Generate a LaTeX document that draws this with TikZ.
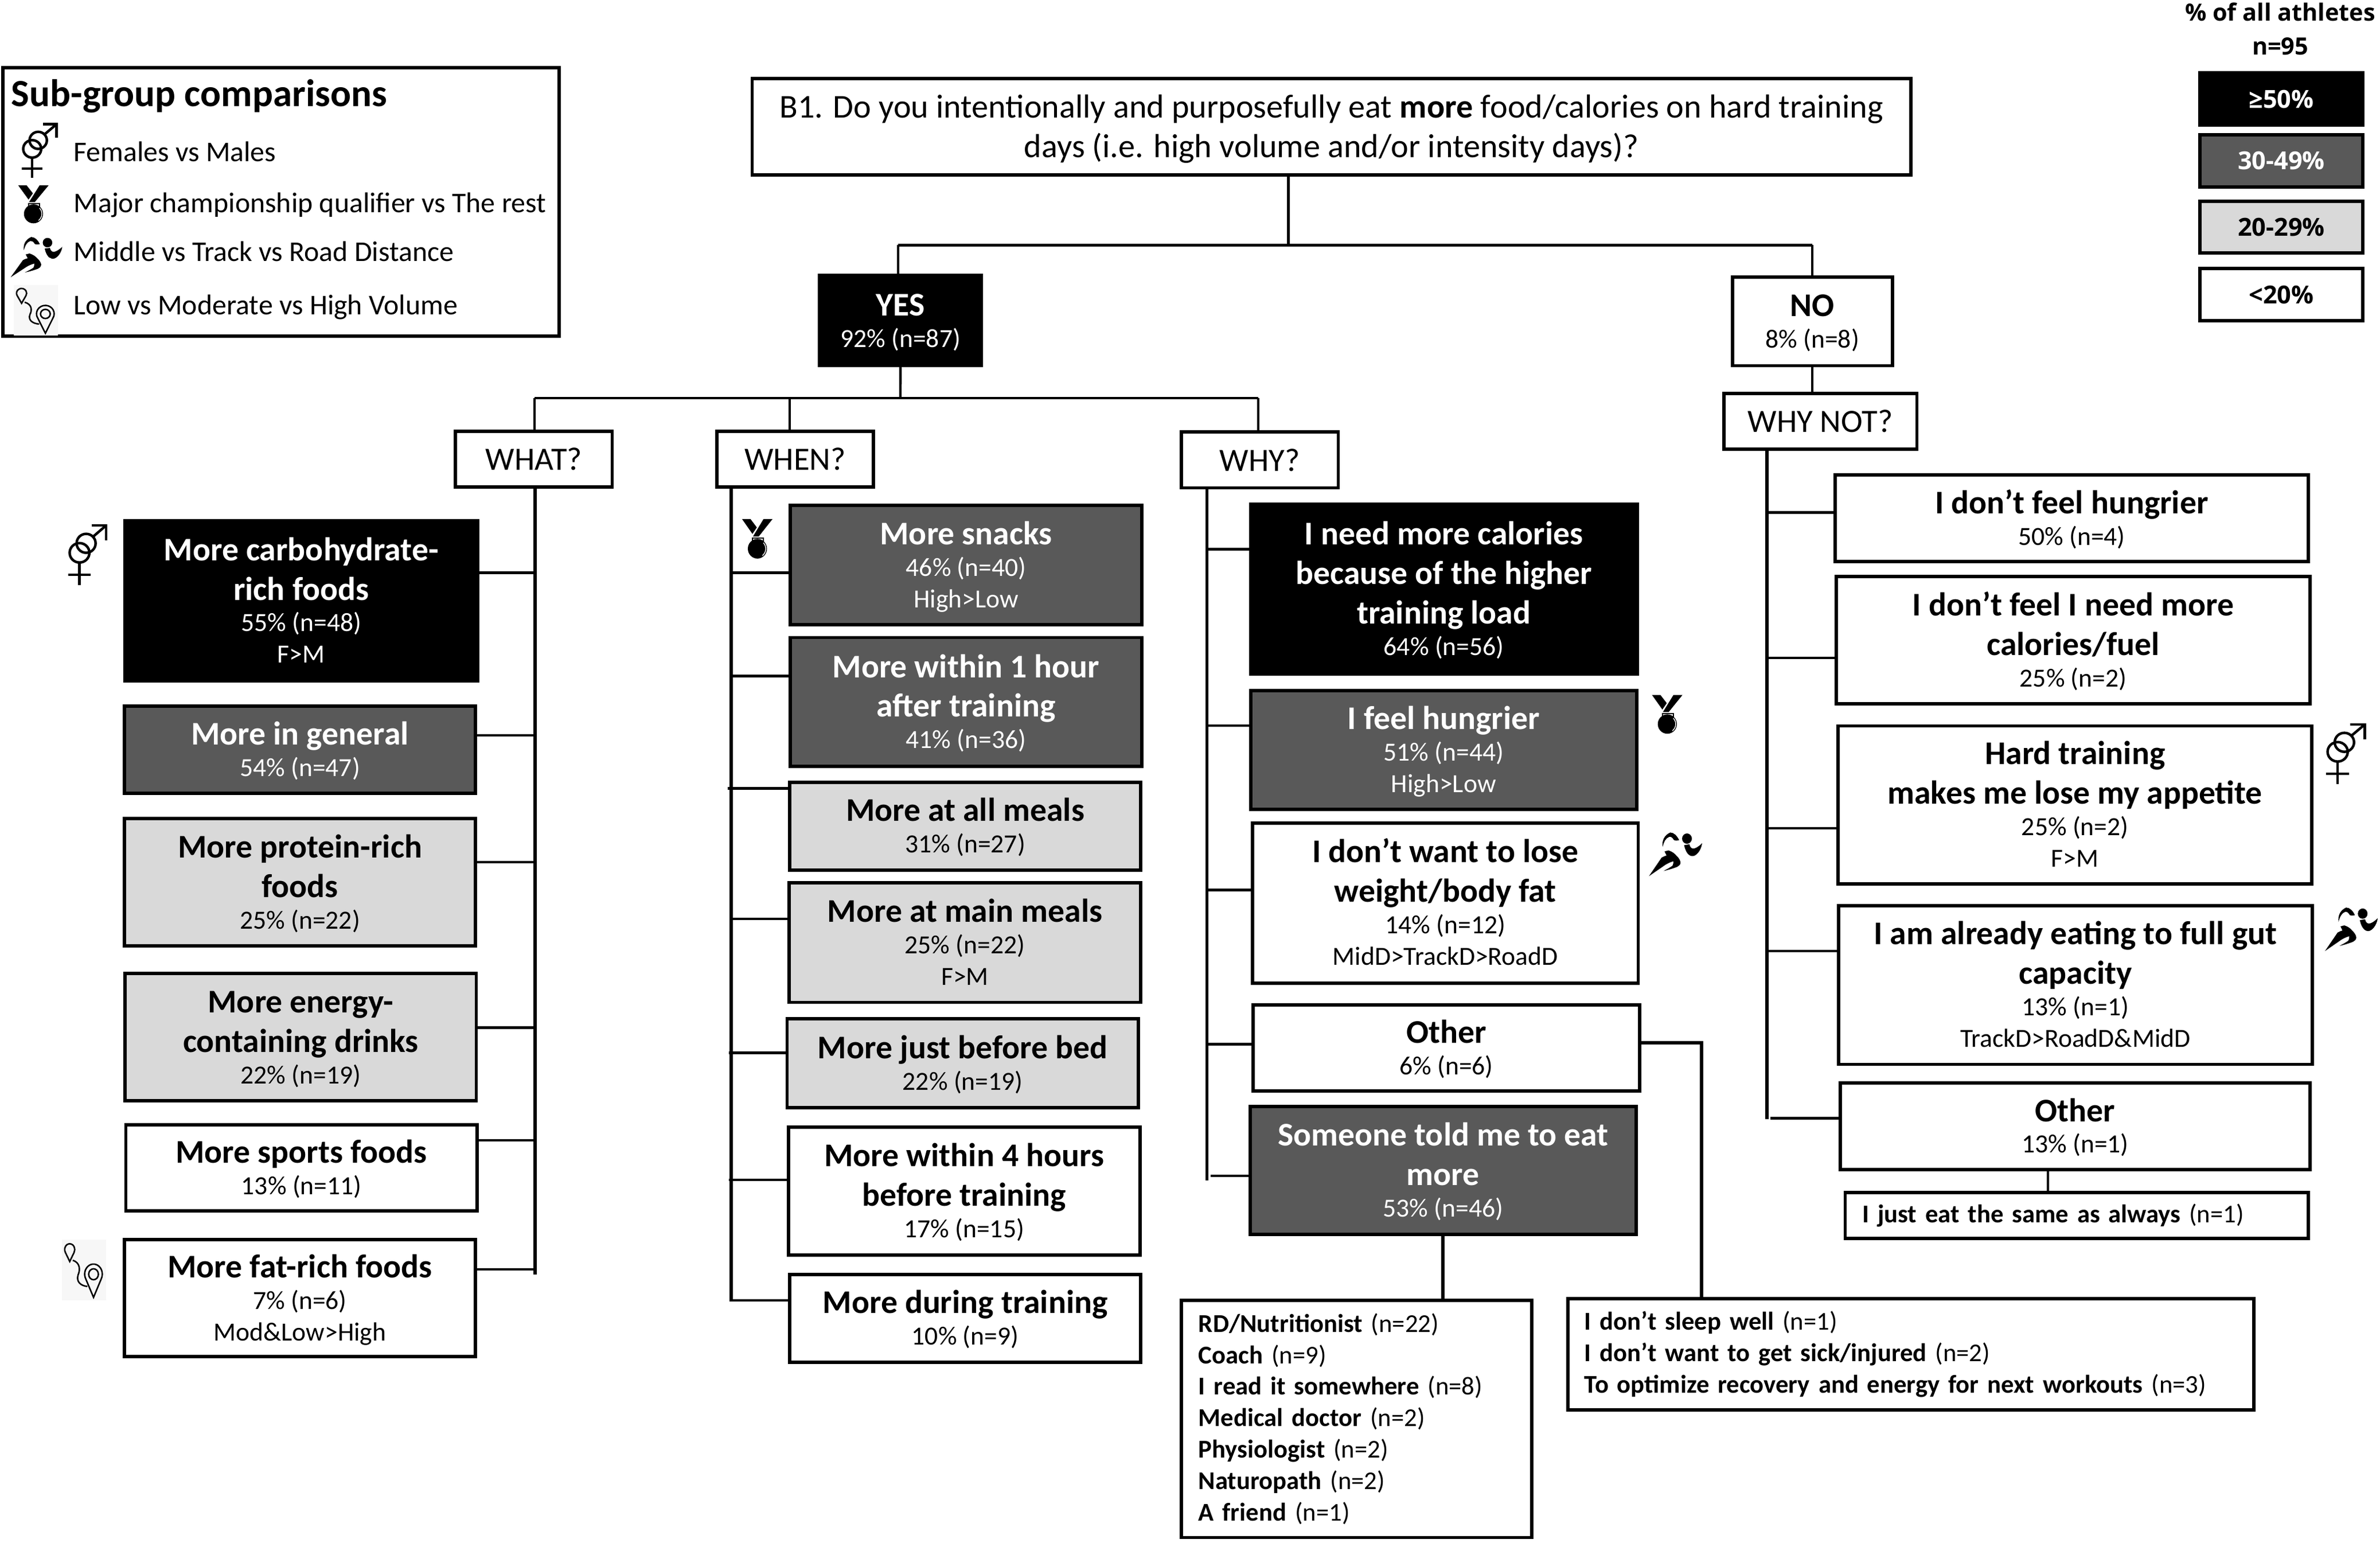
\documentclass[tikz,border=0pt]{standalone}
\usepackage{fontspec}
\setmainfont{Carlito}
\newfontfamily\keyfont{Open Sans}
\definecolor{darkfill}{HTML}{595959}
\definecolor{lightfill}{HTML}{D9D9D9}
\newcommand{\ttl}{\fontsize{12.4}{14.8}\selectfont\bfseries}
\newcommand{\sbt}{\fontsize{9.8}{11.8}\selectfont\mdseries}
\newcommand{\qtx}{\fontsize{12.5}{14.9}\selectfont}
\newcommand{\qwh}{\fontsize{12.2}{14.9}\selectfont}
\newcommand{\lsf}{\fontsize{9.6}{11.8}\selectfont}
\newcommand{\nl}{\\[3pt]}
\tikzset{
  edge box/.style={draw=black,line width=1.25pt,inner sep=0pt,align=center,outer sep=0pt,font=\sbt},
  whitebox/.style={edge box,fill=white,text=black},
  lightbox/.style={edge box,fill=lightfill,text=black},
  darkbox/.style={edge box,fill=darkfill,text=white},
  blackbox/.style={edge box,fill=black,text=white},
  link/.style={line width=0.95pt,draw=black},
  buslink/.style={line width=1.2pt,draw=black},
  legtext/.style={inner sep=0pt,anchor=base west,font=\fontsize{10.7}{12}\selectfont},
  keyhead/.style={inner sep=0pt,anchor=base,font=\keyfont\fontsize{8.9}{11}\selectfont\bfseries},
  keybox/.style={font=\keyfont\fontsize{9.3}{11}\selectfont\bfseries},
  gendericon/.pic={
    \begin{scope}[line width=.95pt]
      \draw (28.3,47.2) circle[x radius=25,y radius=16];
      \draw (45,31.6) circle[x radius=24,y radius=15.6];
      \draw (62,21) -- (96,2);
      \draw (59,2) -- (96,2) -- (96,27);
      \draw (28,63) -- (28,100);
      \draw (0,83.3) -- (57,83.3);
    \end{scope}
  },
  medalicon/.pic={
    \fill (70.4,0) -- (100,0) -- (54.7,44) -- (35.8,44) -- cycle;
    \fill (0,0) -- (27.7,0) -- (48.4,21) -- (34,37.5) -- cycle;
    \draw[line width=.45pt] (34,47.5) rectangle (70,57.5);
    \fill (50.3,75) circle[x radius=31.4,y radius=25];
    \draw[white,line width=.3pt] (70,60) .. controls (80,68) and (82,82) .. (67,92.5);
  },
  runnericon/.pic={
    \fill (25.6,33) .. controls (24,18) and (29,6) .. (40,0) .. controls (47,0) and (53,8) .. (56.6,17.5) .. controls (52,19) and (49,19) .. (47,17.5) .. controls (44,11) and (41,9) .. (38,10) .. controls (31,13) and (28,22) .. (25.6,33) -- cycle;
    \fill (71.4,14) circle[x radius=9.2,y radius=11.8];
    \fill (66,29) -- (76,27) .. controls (78,38) and (84,43) .. (100,24.5) .. controls (98,42) and (88,56) .. (80,54) .. controls (72,52) and (68,40) .. (66,29) -- cycle;
    \fill (29.3,43.4) -- (36.6,41) .. controls (44,44) and (48,48) .. (51.3,52.8) .. controls (56,58) and (59,64) .. (59.3,69.3) .. controls (59,74) and (56,77) .. (53,78.8) .. controls (44,83) and (36,86) .. (27.5,88.2) .. controls (34,84) and (40,80) .. (44,76.4) .. controls (46,72) and (46,68) .. (45.8,66) .. controls (40,68) and (35,71) .. (31,74) -- (0,100) -- (23.8,57.5) .. controls (27,55) and (30,54) .. (33,52.8) -- cycle;
  },
  routeicon/.pic={
    \fill[black!3] (0,0) rectangle (100,100);
    \begin{scope}[line width=.55pt]
      \draw (18,36) -- (8,21) arc[start angle=150,end angle=390,x radius=11.5,y radius=9.5] -- cycle;
      \draw (72,95) -- (54.6,65) arc[start angle=150,end angle=390,x radius=20,y radius=16.5] -- cycle;
      \draw (72,57) circle[x radius=11,y radius=9];
      \draw (25,34) .. controls (42,38) and (42,50) .. (37,58) .. controls (32,70) and (44,76) .. (58,77);
    \end{scope}
  }
}
% name, style, x0, y0, x1, y1, text
\newcommand{\bx}[7]{\node[#2,minimum width={(#5-#3-1.8)*0.02cm},minimum height={(#6-#4-1.8)*0.02cm}] (#1) at ({(#3+#5)/2},{(#4+#6)/2}) {#7};}
% same, with struts that fix the height of the first line and the depth of the last
\newcommand{\tb}[7]{\bx{#1}{#2}{#3}{#4}{#5}{#6}{\rule{0pt}{11.2pt}#7\rule[-3pt]{0pt}{3pt}}}
% name, x0, y0, x1, y1, pad, text
\newcommand{\lst}[7]{\node[whitebox,align=left,inner xsep={#6*0.02cm},text width={(#4-#2-1.8-2*#6)*0.02cm},minimum height={(#5-#3-1.8)*0.02cm},font=\lsf] (#1) at ({(#2+#4)/2},{(#3+#5)/2}) {#7};}
\newcommand{\itm}[2]{\textbf{#1} (n=#2)}
\begin{document}
\begin{tikzpicture}[x=0.02cm,y=-0.02cm]
\useasboundingbox (0,0) rectangle (1567,1015.35);

% sub-group key
\draw[line width=1.25pt] (2,44.5) rectangle (368,221.2);
\node[inner sep=0pt,anchor=base west,font=\fontsize{14.4}{16}\selectfont\bfseries] (subhead) at (7.2,69.9) {Sub-group comparisons};
\node[legtext] (lg1) at (48.2,106.4) {Females vs Males};
\node[legtext] (lg2) at (48.2,140) {Major championship qualifier vs The rest};
\node[legtext] (lg3) at (48.2,171.9) {Middle vs Track vs Road Distance};
\node[legtext] (lg4) at (48.2,207) {Low vs Moderate vs High Volume};
\pic[xscale=.237,yscale=.36] at (14.5,81) {gendericon};
\pic[xscale=.2,yscale=.25] at (12,122) {medalicon};
\pic[xscale=.34,yscale=.265] at (7,156) {runnericon};
\pic[xscale=.29,yscale=.334] at (9,187.6) {routeicon};

% percentage key
\node[keyhead] (kh1) at (1501.3,13.7) {\% of all athletes};
\node[keyhead] (kh2) at (1501.3,36.1) {n=95};
\bx{k1}{blackbox,keybox}{1447.6}{47}{1556.5}{83.4}{≥50\%}
\bx{k2}{darkbox,keybox}{1447.6}{87.7}{1556.5}{124}{30-49\%}
\bx{k3}{lightbox,keybox}{1447.6}{131.5}{1556.5}{167.3}{20-29\%}
\bx{k4}{whitebox,keybox}{1447.6}{175.9}{1556.5}{212}{<20\%}

% question and answers
\tb{q}{whitebox}{494.3}{50.8}{1259}{116.2}{\qtx B1. Do you intentionally and purposefully eat \textbf{more} food/calories on hard training\nl\qtx days (i.e. high volume and/or intensity days)?}
\tb{yes}{blackbox}{538.8}{180.3}{646.9}{241.6}{\ttl YES\\92\% (n=87)}
\tb{no}{whitebox}{1139.7}{181.4}{1246.8}{241.6}{\ttl NO\\8\% (n=8)}
\bx{what}{whitebox}{299}{283}{404}{321.5}{\qwh WHAT?}
\bx{when}{whitebox}{471}{283}{576}{321.5}{\qwh WHEN?}
\bx{why}{whitebox}{777}{283.5}{882}{322}{\qwh WHY?}
\bx{whynot}{whitebox}{1134}{258}{1263}{296.5}{\qwh WHY NOT?}

% WHAT column
\tb{c1}{blackbox}{81.3}{342}{315.4}{449}{\ttl More carbohydrate-\nl\ttl rich foods\\55\% (n=48)\\F>M}
\tb{c2}{darkbox}{81}{464}{314}{523}{\ttl More in general\\54\% (n=47)}
\tb{c3}{lightbox}{81}{538}{314}{623.5}{\ttl More protein-rich\nl\ttl foods\\25\% (n=22)}
\tb{c4}{lightbox}{81.5}{640}{314.5}{725.5}{\ttl More energy-\nl\ttl containing drinks\\22\% (n=19)}
\tb{c5}{whitebox}{82}{739.5}{315}{798}{\ttl More sports foods\\13\% (n=11)}
\tb{c6}{whitebox}{81}{815}{314}{894}{\ttl More fat-rich foods\\7\% (n=6)\\Mod\&Low>High}

% WHEN column
\tb{w1}{darkbox}{519.4}{331.8}{752.8}{412.1}{\ttl More snacks\\46\% (n=40)\\High>Low}
\tb{w2}{darkbox}{519.4}{418.8}{752.6}{505.4}{\ttl More within 1 hour\nl\ttl after training\\41\% (n=36)}
\tb{w3}{lightbox}{519}{514}{752}{573.7}{\ttl More at all meals\\31\% (n=27)}
\tb{w4}{lightbox}{518.7}{580.3}{751.9}{660.7}{\ttl More at main meals\\25\% (n=22)\\F>M}
\tb{w5}{lightbox}{517.3}{669.8}{750.4}{729.9}{\ttl More just before bed\\22\% (n=19)}
\tb{w6}{whitebox}{518.2}{741}{751.4}{827.2}{\ttl More within 4 hours\nl\ttl before training\\17\% (n=15)}
\tb{w7}{whitebox}{519}{838}{752}{897.6}{\ttl More during training\\10\% (n=9)}

% WHY column
\tb{y1}{blackbox}{822.5}{331}{1078.8}{444.5}{\ttl I need more calories\nl\ttl because of the higher\nl\ttl training load\\64\% (n=56)}
\tb{y2}{darkbox}{822.5}{453.6}{1078.5}{533.6}{\ttl I feel hungrier\\51\% (n=44)\\High>Low}
\tb{y3}{whitebox}{823.7}{540.8}{1079.5}{648}{\ttl I don’t want to lose\nl\ttl weight/body fat\\14\% (n=12)\\MidD>TrackD>RoadD}
\tb{y4}{whitebox}{824.2}{660.6}{1080.4}{719}{\ttl Other\\6\% (n=6)}
\tb{y5}{darkbox}{822.3}{727.6}{1078}{813.4}{\ttl Someone told me to eat\nl\ttl more\\53\% (n=46)}
\lst{rd}{777}{855}{1009.4}{1013}{11.2}{\itm{RD/Nutritionist}{22}\\\itm{Coach}{9}\\\itm{I read it somewhere}{8}\\\itm{Medical doctor}{2}\\\itm{Physiologist}{2}\\\itm{Naturopath}{2}\\\itm{A friend}{1}}
\lst{ot}{1031.3}{854}{1484.7}{929}{11}{\itm{I don’t sleep well}{1}\\\itm{I don’t want to get sick/injured}{2}\\\itm{To optimize recovery and energy for next workouts}{3}}

% WHY NOT column
\tb{n1}{whitebox}{1207.4}{311.7}{1520.6}{370.7}{\ttl I don’t feel hungrier\\50\% (n=4)}
\tb{n2}{whitebox}{1208.2}{378.7}{1521.8}{464.2}{\ttl I don’t feel I need more\nl\ttl calories/fuel\\25\% (n=2)}
\tb{n3}{whitebox}{1209.4}{476.9}{1523}{582.7}{\ttl Hard training\nl\ttl makes me lose my appetite\\25\% (n=2)\\F>M}
\tb{n4}{whitebox}{1209.7}{595.3}{1523.2}{701.5}{\ttl I am already eating to full gut\nl\ttl capacity\\13\% (n=1)\\TrackD>RoadD\&MidD}
\tb{n5}{whitebox}{1210.8}{712}{1521.8}{770.7}{\ttl Other\\13\% (n=1)}
\lst{n6}{1214}{784}{1520.6}{816.2}{11.2}{\itm{I just eat the same as always}{1}}

% icons beside boxes
\pic[xscale=.26,yscale=.40] at (45,345) {gendericon};
\pic[xscale=.29,yscale=.40] at (40.7,816) {routeicon};
\pic[xscale=.2,yscale=.26] at (488.6,341.7) {medalicon};
\pic[xscale=.2,yscale=.255] at (1087.7,457.5) {medalicon};
\pic[xscale=.35,yscale=.287] at (1085.7,548) {runnericon};
\pic[xscale=.265,yscale=.40] at (1531.6,476) {gendericon};
\pic[xscale=.347,yscale=.286] at (1530.8,597.4) {runnericon};

% bus ends
\coordinate (topmid) at (848.3,161.4);
\coordinate (topl) at (591.2,161.4);
\coordinate (topr) at (1193.2,161.4);
\coordinate (midl) at (352,262);
\coordinate (midm) at (520,262);
\coordinate (midc) at (592.8,262);
\coordinate (midr) at (828.5,262);
\coordinate (whatend) at (352.3,839);
\coordinate (whenend) at (481.4,856.6);
\coordinate (whyend) at (794.6,777);
\coordinate (notend) at (1163.4,736.5);
\coordinate (knee) at (1120.4,686.4);
\coordinate (kneein) at (950,813);
\coordinate (stubin) at (1348.4,770);

% upper tree
\draw[link] (q.south -| topmid) -- (topmid);
\draw[link] (topl) -- (topr);
\draw[link] (topl) -- (yes.north -| topl);
\draw[link] (topr) -- (no.north -| topr);
\draw[link] (no.south) -- (whynot.north -| no.south);
\draw[link] (yes.south) -- (midc);
\draw[link] (midl) -- (midr);
\draw[link] (midl) -- (what.north -| midl);
\draw[link] (midm) -- (when.north -| midm);
\draw[link] (midr) -- (why.north -| midr);

% vertical buses
\draw[buslink] (whatend |- what.south) -- (whatend);
\draw[buslink] (whenend |- when.south) -- (whenend);
\draw[buslink] (whyend |- why.south) -- (whyend);
\draw[buslink] (notend |- whynot.south) -- (notend);

% branches
\draw[link] (c1.east |- 0,377) -- (whatend |- 0,377);
\draw[link] (c2.east |- 0,484) -- (whatend |- 0,484);
\draw[link] (c3.east |- 0,567.6) -- (whatend |- 0,567.6);
\draw[link] (c4.east |- 0,676.5) -- (whatend |- 0,676.5);
\draw[link] (c5.east |- 0,750.7) -- (whatend |- 0,750.7);
\draw[link] (c6.east |- 0,835.5) -- (whatend |- 0,835.5);

\draw[link] (w1.west |- 0,377) -- (whenend |- 0,377);
\draw[link] (w2.west |- 0,445) -- (whenend |- 0,445);
\draw[link,shorten >=-1.2pt] (w3.west |- 0,519) -- (whenend |- 0,519);
\draw[link] (w4.west |- 0,604.8) -- (whenend |- 0,604.8);
\draw[link,shorten >=-.8pt] (w5.west |- 0,693) -- (whenend |- 0,693);
\draw[link,shorten >=-.8pt] (w6.west |- 0,776.7) -- (whenend |- 0,776.7);
\draw[link,shorten >=-.5pt] (w7.west |- 0,856) -- (whenend |- 0,856);

\draw[link] (y1.west |- 0,361.6) -- (whyend |- 0,361.6);
\draw[link] (y2.west |- 0,477.6) -- (whyend |- 0,477.6);
\draw[link] (y3.west |- 0,585.8) -- (whyend |- 0,585.8);
\draw[link] (y4.west |- 0,687.4) -- (whyend |- 0,687.4);
\draw[link,shorten >=1.5pt] (y5.west |- 0,774) -- (whyend |- 0,774);

\draw[link] (n1.west |- 0,337.4) -- (notend |- 0,337.4);
\draw[link] (n2.west |- 0,433) -- (notend |- 0,433);
\draw[link] (n3.west |- 0,545.2) -- (notend |- 0,545.2);
\draw[link] (n4.west |- 0,626) -- (notend |- 0,626);
\draw[link,shorten >=1.2pt] (n5.west |- 0,736.1) -- (notend |- 0,736.1);

% sub-lists
\draw[buslink] (kneein |- y5.south) -- (kneein |- rd.north);
\draw[buslink] (y4.east |- knee) -- (knee) -- (knee |- ot.north);
\draw[link] (stubin |- n5.south) -- (stubin |- n6.north);
\end{tikzpicture}
\end{document}
